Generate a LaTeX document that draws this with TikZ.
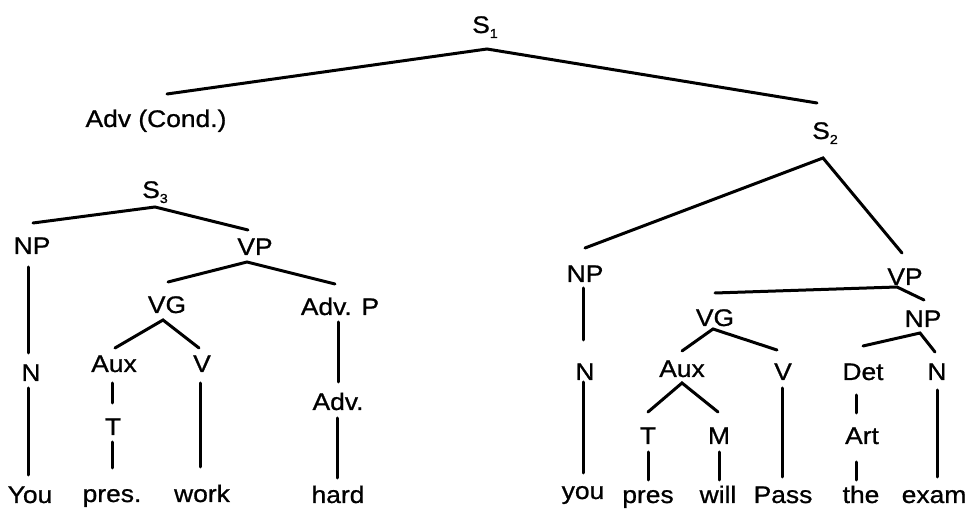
\documentclass[tikz,border=0pt]{standalone}
\usepackage{fontspec}
\setmainfont{Liberation Sans}
\newfontfamily\labfont{Liberation Sans}[FakeStretch=1.1,FakeBold=0.9]
\newcommand{\subidx}[1]{\raisebox{-5pt}{\fontsize{13}{13}\selectfont #1}}
\begin{document}
\begin{tikzpicture}[x=1pt,y=-1pt,
  lab/.style={anchor=base,inner sep=0pt,font=\labfont\fontsize{24}{24}\selectfont},
  edge/.style={line width=3pt,line cap=round,black}]
\useasboundingbox (0,0) rectangle (970,510);

% ---------- labels ----------
\node[lab] (s1)   at (485,33)  {S\subidx{1}};
\node[lab] (adv)  at (156,127) {Adv (Cond.)};
\node[lab] (s2)   at (825,139) {S\subidx{2}};
% left clause
\node[lab] (s3)   at (155,198) {S\subidx{3}};
\node[lab] (npa)  at (32,254)  {NP};
\node[lab] (vpa)  at (255,255) {VP};
\node[lab] (vga)  at (167,313) {VG};
\node[lab] (advp) at (340,315) {Adv. P};
\node[lab] (na)   at (31,381)  {N};
\node[lab] (auxa) at (114,372) {Aux};
\node[lab] (va)   at (202,372) {V};
\node[lab] (ta)   at (113,435) {T};
\node[lab] (advb) at (338,410) {Adv.};
\node[lab] (wyou) at (30,503)  {You};
\node[lab] (wpra) at (112,502) {pres.};
\node[lab] (wwrk) at (202,502) {work};
\node[lab] (whrd) at (338,503) {hard};
% right clause
\node[lab] (npb)  at (585,282) {NP};
\node[lab] (vpb)  at (905,285) {VP};
\node[lab] (vgb)  at (715,326) {VG};
\node[lab] (npc)  at (923,327) {NP};
\node[lab] (nb)   at (585,380) {N};
\node[lab] (auxb) at (682,377) {Aux};
\node[lab] (vb)   at (783,380) {V};
\node[lab] (det)  at (863,380) {Det};
\node[lab] (nc)   at (937,380) {N};
\node[lab] (tb)   at (648,444) {T};
\node[lab] (mb)   at (719,444) {M};
\node[lab] (art)  at (862,444) {Art};
\node[lab] (wyo2) at (583,499) {you};
\node[lab] (wprb) at (648,503) {pres};
\node[lab] (wwil) at (718,503) {will};
\node[lab] (wpas) at (783,503) {Pass};
\node[lab] (wthe) at (861,503) {the};
\node[lab] (wexm) at (934,503) {exam};

% ---------- branch points ----------
\coordinate (s1-d)   at (487,49);
\coordinate (adv-u)  at (167,94);
\coordinate (s2-u)   at (817,103);
\coordinate (s2-d)   at (823,158);
\coordinate (npb-u)  at (585,248);
\coordinate (vpb-u)  at (902,253);
\coordinate (s3-d)   at (155,207);
\coordinate (npa-u)  at (33,223);
\coordinate (vpa-u)  at (248,230);
\coordinate (npa-d)  at (28,267);
\coordinate (na-u)   at (28,353);
\coordinate (na-d)   at (28,388);
\coordinate (wyou-u) at (28,475);
\coordinate (vpa-d)  at (247,262);
\coordinate (vga-u)  at (168,282);
\coordinate (advp-u) at (335,284);
\coordinate (vga-d)  at (163,320);
\coordinate (auxa-u) at (115,348);
\coordinate (va-u)   at (199,348);
\coordinate (auxa-d) at (112,383);
\coordinate (ta-u)   at (112,403);
\coordinate (ta-d)   at (112,442);
\coordinate (wpra-u) at (112,468);
\coordinate (va-d)   at (200,383);
\coordinate (wwrk-u) at (200,467);
\coordinate (advp-d) at (338,322);
\coordinate (advb-u) at (338,382);
\coordinate (advb-d) at (337,418);
\coordinate (whrd-u) at (337,478);
\coordinate (npb-d)  at (583,288);
\coordinate (nb-u)   at (583,340);
\coordinate (nb-d)   at (583,382);
\coordinate (wyo2-u) at (583,473);
\coordinate (vpb-d)  at (897,287);
\coordinate (vgb-u)  at (715,293);
\coordinate (npc-u)  at (924,300);
\coordinate (vgb-d)  at (713,329);
\coordinate (auxb-u) at (682,351);
\coordinate (vb-u)   at (777,350);
\coordinate (npc-d)  at (920,333);
\coordinate (det-u)  at (863,346);
\coordinate (nc-u)   at (935,352);
\coordinate (auxb-d) at (682,383);
\coordinate (tb-u)   at (648,412);
\coordinate (mb-u)   at (718,412);
\coordinate (tb-d)   at (648,452);
\coordinate (wprb-u) at (648,480);
\coordinate (mb-d)   at (719,452);
\coordinate (wwil-u) at (719,480);
\coordinate (vb-d)   at (782,388);
\coordinate (wpas-u) at (782,477);
\coordinate (det-d)  at (856,395);
\coordinate (art-u)  at (856,413);
\coordinate (art-d)  at (856,462);
\coordinate (wthe-u) at (856,480);
\coordinate (nc-d)   at (937,390);
\coordinate (wexm-u) at (937,477);

% ---------- branches ----------
\draw[edge] (adv-u) -- (s1-d) -- (s2-u);
\draw[edge] (npb-u) -- (s2-d) -- (vpb-u);
\draw[edge] (npa-u) -- (s3-d) -- (vpa-u);
\draw[edge] (npa-d) -- (na-u);
\draw[edge] (na-d) -- (wyou-u);
\draw[edge] (vga-u) -- (vpa-d) -- (advp-u);
\draw[edge] (auxa-u) -- (vga-d) -- (va-u);
\draw[edge] (auxa-d) -- (ta-u);
\draw[edge] (ta-d) -- (wpra-u);
\draw[edge] (va-d) -- (wwrk-u);
\draw[edge] (advp-d) -- (advb-u);
\draw[edge] (advb-d) -- (whrd-u);
\draw[edge] (npb-d) -- (nb-u);
\draw[edge] (nb-d) -- (wyo2-u);
\draw[edge] (vgb-u) -- (vpb-d) -- (npc-u);
\draw[edge] (auxb-u) -- (vgb-d) -- (vb-u);
\draw[edge] (det-u) -- (npc-d) -- (nc-u);
\draw[edge] (tb-u) -- (auxb-d) -- (mb-u);
\draw[edge] (tb-d) -- (wprb-u);
\draw[edge] (mb-d) -- (wwil-u);
\draw[edge] (vb-d) -- (wpas-u);
\draw[edge] (det-d) -- (art-u);
\draw[edge] (art-d) -- (wthe-u);
\draw[edge] (nc-d) -- (wexm-u);
\end{tikzpicture}
\end{document}
